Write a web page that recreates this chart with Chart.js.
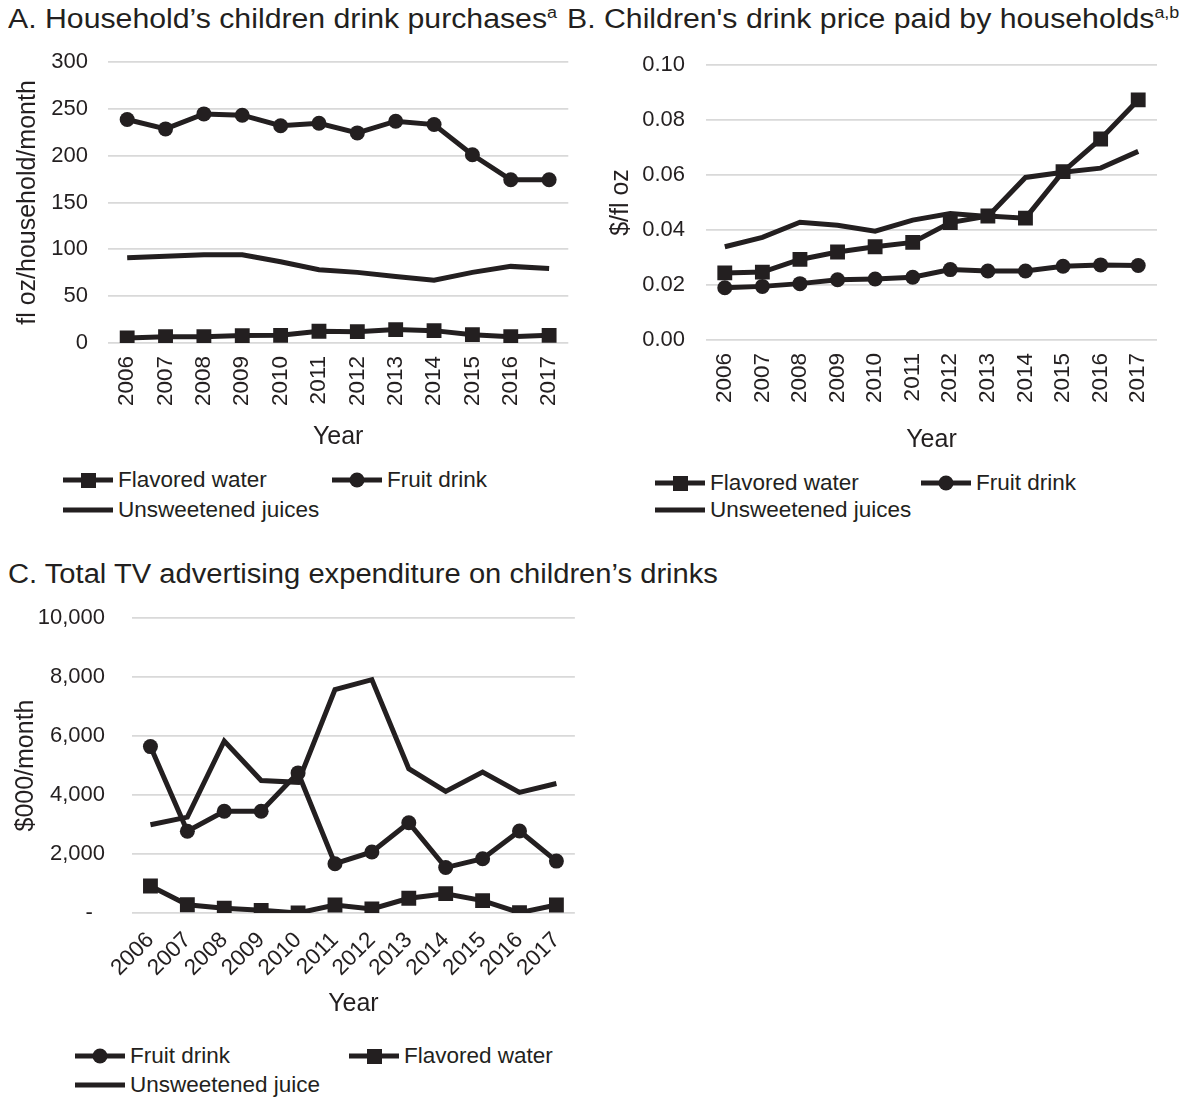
<!DOCTYPE html>
<html>
<head>
<meta charset="utf-8">
<script src="https://cdn.jsdelivr.net/npm/chart.js@4/dist/chart.umd.min.js"></script>
<style>
  body { margin: 0; background: #fff; width: 1191px; height: 1097px; position: relative; overflow: hidden;
         font-family: "Liberation Sans", Arial, sans-serif; color: #231f20; }
  .ttl { position: absolute; font-size: 27px; white-space: nowrap; transform: scaleX(1.12); transform-origin: 0 0; }
  .ttl sup { font-size: 16px; vertical-align: 10px; line-height: 0; }
  .box { position: absolute; width: 590px; height: 420px; }
  .legend { position: absolute; font-size: 22.5px; }
  .legend .item { position: absolute; display: flex; align-items: center; white-space: nowrap; }
  .legend svg { margin-right: 5px; }
</style>
</head>
<body>
<div class="ttl" style="left:8px; top:4px">A. Household’s children drink purchases<sup>a</sup></div>
<div class="ttl" style="left:567px; top:4px">B. Children's drink price paid by households<sup>a,b</sup></div>
<div class="ttl" style="left:8px; top:559px; transform: scaleX(1.08)">C. Total TV advertising expenditure on children’s drinks</div>

<div class="box" style="left:0; top:40px"><canvas id="chartA"></canvas></div>
<div class="box" style="left:590px; top:40px; width:601px"><canvas id="chartB"></canvas></div>
<div class="box" style="left:0; top:600px"><canvas id="chartC"></canvas></div>

<div class="legend" id="legendA"></div>
<div class="legend" id="legendB"></div>
<div class="legend" id="legendC"></div>

<script>
const years = ["2006", "2007", "2008", "2009", "2010", "2011", "2012", "2013", "2014", "2015", "2016", "2017"];

// A. purchases, fl oz/household/month
const purchFlavoredWater = [5.4, 6.8, 6.8, 7.9, 8.2, 12.5, 12.1, 14.3, 13.2, 8.9, 6.8, 8.2];
const purchFruitDrink = [238.6, 228.6, 244.6, 243.2, 232, 234.6, 224.3, 236.8, 233.2, 201, 174.3, 174.3];
const purchJuices = [91, 92.5, 94.3, 94.3, 86.8, 78.2, 75.4, 71, 67, 75.4, 81.8, 79.6];

// B. price, $/fl oz
const priceFlavoredWater = [0.0244, 0.0247, 0.0293, 0.032, 0.0339, 0.0355, 0.0427, 0.0451, 0.0443, 0.0612, 0.0731, 0.0873];
const priceFruitDrink = [0.019, 0.0195, 0.0205, 0.0219, 0.0222, 0.0228, 0.0256, 0.0251, 0.0251, 0.0268, 0.0273, 0.0271];
const priceJuices = [0.0339, 0.0373, 0.0428, 0.0417, 0.0396, 0.0436, 0.046, 0.0449, 0.0591, 0.061, 0.0625, 0.0686];

// C. TV ad spend, $000/month
const adFruitDrink = [5640, 2770, 3450, 3450, 4750, 1670, 2070, 3060, 1540, 1840, 2780, 1760];
const adFlavoredWater = [915, 280, 160, 90, 0, 270, 140, 500, 655, 420, 10, 270];
const adJuice = [2990, 3250, 5830, 4490, 4430, 7570, 7910, 4890, 4120, 4780, 4090, 4390];

const INK = "#231f20";
const GRID = "#d9d9d9";
const FONT = '"Liberation Sans", Arial, sans-serif';

Chart.defaults.font.family = FONT;
Chart.defaults.color = INK;

function series(label, data, style) {
  return {
    label, data,
    borderColor: INK, backgroundColor: INK,
    borderWidth: 5, tension: 0,
    pointStyle: style || false,
    pointRadius: style === "rect" ? 10.5 : (style ? 7.5 : 0),
    pointBorderWidth: 0
  };
}

// html legend with a line + marker sample, two columns
function buildLegend(id, datasets, pos) {
  const el = document.getElementById(id);
  datasets.forEach((ds, i) => {
    const item = document.createElement("div");
    item.className = "item";
    item.style.left = pos.cols[i % 2] + "px";
    item.style.top = (pos.rows[Math.floor(i / 2)] - 13) + "px";
    let mark = "";
    if (ds.pointStyle === "rect") mark = '<rect x="18" y="6" width="15" height="15" fill="' + INK + '"/>';
    else if (ds.pointStyle === "circle") mark = '<circle cx="25" cy="13" r="7.5" fill="' + INK + '"/>';
    item.innerHTML = '<svg width="50" height="26"><line x1="0" y1="13" x2="50" y2="13" stroke="' + INK +
      '" stroke-width="5"/>' + mark + '</svg><span>' + ds.label + '</span>';
    el.appendChild(item);
  });
}

function makeChart(id, datasets, geo) {
  return new Chart(document.getElementById(id), {
    type: "line",
    data: { labels: years, datasets },
    options: {
      responsive: true,
      maintainAspectRatio: false,
      animation: false,
      layout: { padding: { top: geo.padTop, right: geo.padRight, left: 0, bottom: 0 } },
      plugins: { legend: { display: false }, tooltip: { enabled: false } },
      scales: {
        x: {
          offset: true,
          grid: { display: false, drawTicks: false },
          border: { display: false },
          ticks: { font: { size: 22.5 }, color: INK, minRotation: geo.rot, maxRotation: geo.rot, padding: geo.xPad, autoSkip: false },
          title: { display: true, text: "Year", font: { size: 25 }, color: INK, padding: { top: 0, bottom: geo.titlePadBottom } },
          afterFit: (s) => { s.height = geo.xHeight; }
        },
        y: {
          min: geo.min, max: geo.max,
          // tick marks are invisible, they only keep the labels off the grid
          grid: { color: GRID, lineWidth: 1.8, drawTicks: true, tickLength: geo.yPad, tickColor: "rgba(0,0,0,0)" },
          border: { display: false },
          ticks: { stepSize: geo.step, font: { size: 22 }, color: INK, padding: 0, callback: geo.fmt },
          title: { display: true, text: geo.yTitle, font: { size: 25 }, color: INK, padding: { top: geo.yTitlePad, bottom: 0 } },
          afterFit: (s) => { s.width = geo.yWidth; }
        }
      }
    }
  });
}

const dsA = [
  series("Flavored water", purchFlavoredWater, "rect"),
  series("Fruit drink", purchFruitDrink, "circle"),
  series("Unsweetened juices", purchJuices, false)
];
makeChart("chartA", dsA, {
  padTop: 22, padRight: 21, yWidth: 108, xHeight: 117, rot: 90, xPad: 13, titlePadBottom: 8,
  min: 0, max: 300, step: 50, yPad: 20, yTitle: "fl oz/household/month", yTitlePad: 13,
  fmt: (v) => v
});
buildLegend("legendA", dsA, { cols: [63, 332], rows: [480, 510] });

const dsB = [
  series("Flavored water", priceFlavoredWater, "rect"),
  series("Fruit drink", priceFruitDrink, "circle"),
  series("Unsweetened juices", priceJuices, false)
];
makeChart("chartB", dsB, {
  padTop: 25, padRight: 34, yWidth: 116, xHeight: 120, rot: 90, xPad: 13, titlePadBottom: 5,
  min: 0, max: 0.1, step: 0.02, yPad: 21, yTitle: "$/fl oz", yTitlePad: 16,
  fmt: (v) => v.toFixed(2)
});
buildLegend("legendB", dsB, { cols: [655, 921], rows: [483, 510] });

const dsC = [
  series("Fruit drink", adFruitDrink, "circle"),
  series("Flavored water", adFlavoredWater, "rect"),
  series("Unsweetened juice", adJuice, false)
];
makeChart("chartC", dsC, {
  padTop: 18, padRight: 12, yWidth: 132, xHeight: 107, rot: 45, xPad: 14, titlePadBottom: 1,
  min: 0, max: 10000, step: 2000, yPad: 27, yTitle: "$000/month", yTitlePad: 11,
  fmt: (v) => v === 0 ? "-  " : v.toLocaleString("en-US")
});
buildLegend("legendC", dsC, { cols: [75, 349], rows: [1056, 1085] });
</script>
</body>
</html>
